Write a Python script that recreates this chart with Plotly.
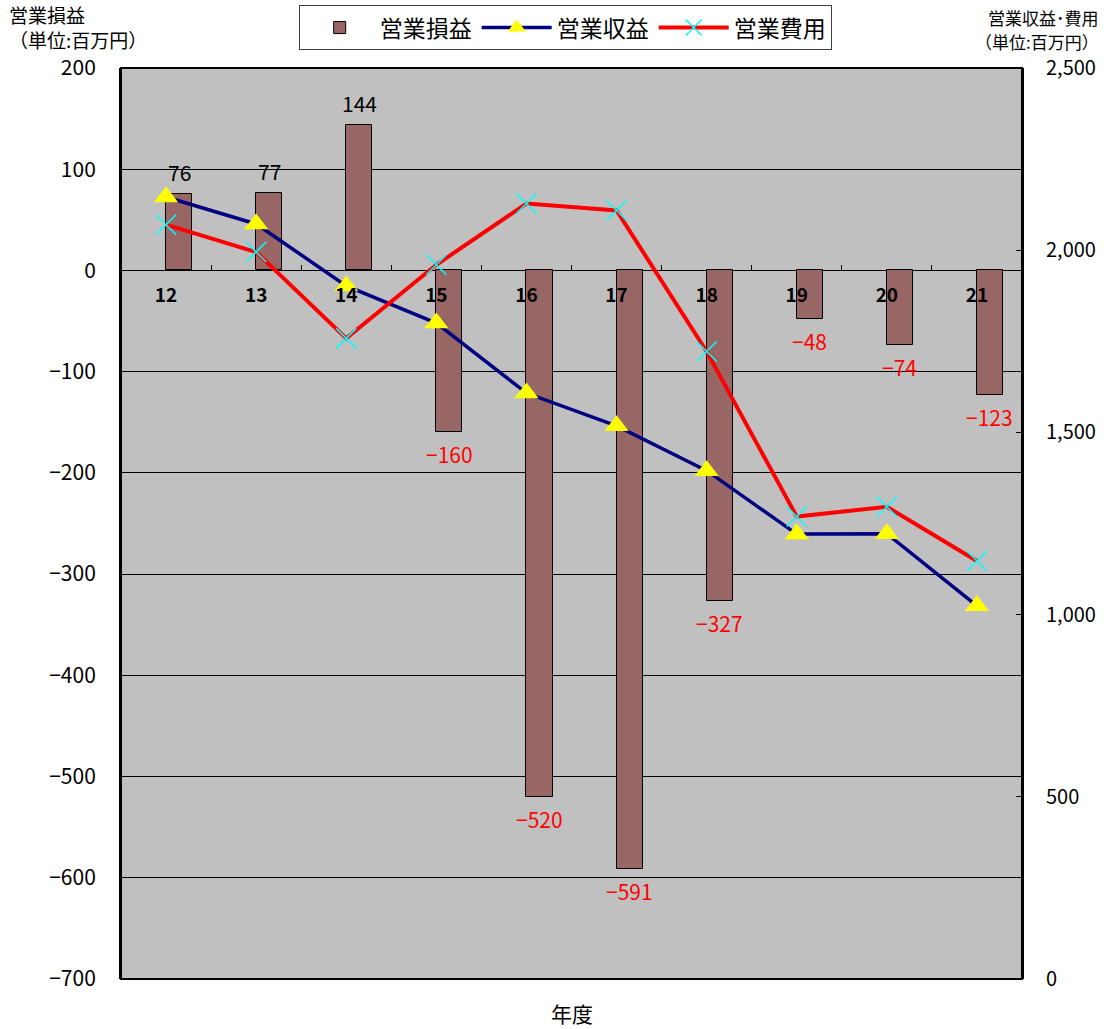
import plotly.graph_objects as go

categories = ["12", "13", "14", "15", "16", "17", "18", "19", "20", "21"]
profit = [76, 77, 144, -160, -520, -591, -327, -48, -74, -123]
revenue = [2146, 2072, 1902, 1800, 1608, 1518, 1395, 1221, 1222, 1024]
expense = [2070, 1995, 1758, 1960, 2128, 2109, 1722, 1269, 1296, 1147]

FONT = "Noto Sans CJK JP"

fig = go.Figure()

fig.add_trace(go.Bar(
    x=categories, y=profit, name="営業損益",
    xaxis="x", yaxis="y",
    offset=0, width=0.29,
    marker=dict(color="#996666", line=dict(color="black", width=1)),
))

fig.add_trace(go.Scatter(
    x=categories, y=revenue, name="営業収益",
    xaxis="x", yaxis="y2", mode="lines+markers",
    line=dict(color="#000080", width=3.5),
    marker=dict(symbol="triangle-up", size=21, color="#FFFF00", line=dict(width=0)),
))

fig.add_trace(go.Scatter(
    x=categories, y=expense, name="営業費用",
    xaxis="x", yaxis="y2", mode="lines+markers",
    line=dict(color="#FF0000", width=4),
    marker=dict(symbol="x-thin", size=20, color="#00FFFF",
                line=dict(color="#00FFFF", width=1.5)),
))

# data labels for bars (x given as category index)
for i, v in enumerate(profit):
    fig.add_annotation(
        x=i, y=v, xref="x", yref="y",
        text=str(v).replace("-", "−"),
        showarrow=False, xshift=13, yshift=22 if v >= 0 else -22,
        yanchor="middle", xanchor="center",
        font=dict(family=FONT, size=21, color="black" if v >= 0 else "#FF0000"),
    )

# axis unit titles
left_title = ["営業損益", "（単位:百万円）"]
right_title = ["営業収益･費用", "（単位:百万円）"]
for txt, ys in zip(left_title, [54, 29]):
    fig.add_annotation(
        x=-0.125, y=1.0, xref="paper", yref="paper", yanchor="middle", xanchor="left",
        yshift=ys, showarrow=False, text=txt, borderpad=0,
        font=dict(family=FONT, size=19, color="black"),
    )
for txt, ys in zip(right_title, [51, 27]):
    fig.add_annotation(
        x=1.0866, y=1.0, xref="paper", yref="paper", yanchor="middle", xanchor="right",
        yshift=ys, showarrow=False, text=txt, borderpad=0,
        font=dict(family=FONT, size=17, color="black"),
    )
# x axis title
fig.add_annotation(
    x=0.5, y=0, xref="paper", yref="paper", yanchor="middle", xanchor="center",
    yshift=-34, showarrow=False, text="年度", borderpad=0,
    font=dict(family=FONT, size=21, color="black"),
)

# plot-area border
fig.add_shape(type="rect", xref="paper", yref="paper", x0=0, x1=1, y0=0, y1=1,
              line=dict(color="black", width=2), layer="above")

fig.update_layout(
    width=1109, height=1029,
    margin=dict(l=121, r=87, t=68, b=50, autoexpand=False),
    paper_bgcolor="white",
    plot_bgcolor="#C0C0C0",
    font=dict(family=FONT, color="black"),
    showlegend=True,
    legend=dict(
        orientation="h", x=0.493, xanchor="center", y=1.069, yanchor="top",
        bgcolor="white", bordercolor="#404040", borderwidth=1,
        font=dict(family=FONT, size=23, color="black"),
        traceorder="normal", itemwidth=70,
    ),
    bargap=0,
    xaxis=dict(
        type="category", categoryorder="array", categoryarray=categories,
        range=[-0.5, 9.5], anchor="free", position=700 / 900,
        side="bottom", showgrid=False, showline=False, zeroline=False,
        ticks="inside", tickson="boundaries", ticklen=5, tickcolor="black", tickwidth=1,
        tickfont=dict(family=FONT, size=19, color="black", weight="bold"),
        ticklabelstandoff=12,
    ),
    yaxis=dict(
        range=[-700, 200], dtick=100, tick0=0,
        showgrid=True, gridcolor="black", gridwidth=1,
        zeroline=True, zerolinecolor="black", zerolinewidth=1,
        showline=True, linecolor="black", linewidth=2,
        ticks="", tickfont=dict(family=FONT, size=21, color="black"),
        ticklabelstandoff=19,
    ),
    yaxis2=dict(
        range=[0, 2500], dtick=500, tick0=0, tickformat=",",
        overlaying="y", side="right", anchor="x",
        showgrid=False, zeroline=False,
        showline=True, linecolor="black", linewidth=2,
        ticks="inside", ticklen=6, tickcolor="black",
        tickfont=dict(family=FONT, size=20, color="black"),
        ticklabelstandoff=18,
    ),
)

fig.write_html(
    "out.html",
    config={"displayModeBar": False},
    post_script="document.body.style.margin='0';document.body.style.overflow='hidden';",
)
